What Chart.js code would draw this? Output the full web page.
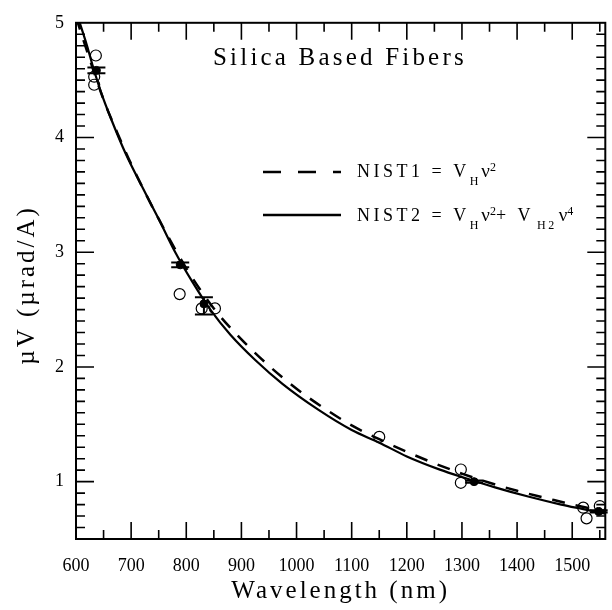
<!DOCTYPE html>
<html><head><meta charset="utf-8">
<script src="https://cdn.jsdelivr.net/npm/chart.js@4/dist/chart.umd.min.js"></script>
<style>html,body{margin:0;padding:0;background:#fff}</style>
</head><body>
<canvas id="c" width="612" height="610"></canvas>
<script>
// ---- data ----
const nist2Wavelength = [600, 620, 630, 645, 663, 690, 720, 750, 780, 810, 845, 880, 925, 975, 1040, 1100, 1150, 1200, 1260, 1300, 1360, 1420, 1480, 1520, 1560];
const nist2Values     = [5.10, 4.80, 4.63, 4.40, 4.17, 3.86, 3.57, 3.29, 3.00, 2.75, 2.49, 2.28, 2.06, 1.85, 1.625, 1.45, 1.34, 1.22, 1.105, 1.04, 0.95, 0.87, 0.80, 0.76, 0.72];
const nist1Wavelength = [600, 625, 650, 675, 700, 750, 800, 850, 900, 950, 1000, 1050, 1100, 1150, 1200, 1250, 1300, 1350, 1400, 1450, 1500, 1560];
const nist1Values     = [5.05, 4.68, 4.33, 4.04, 3.77, 3.29, 2.86, 2.51, 2.24, 2.01, 1.81, 1.64, 1.49, 1.37, 1.26, 1.16, 1.07, 0.99, 0.92, 0.86, 0.80, 0.74];
const openWavelength  = [636, 633, 633, 788, 828, 852, 1150, 1298, 1298, 1520, 1526, 1550];
const openValues      = [4.715, 4.53, 4.46, 2.635, 2.51, 2.51, 1.39, 1.106, 0.99, 0.773, 0.68, 0.787];
const filledWavelength = [637, 789, 832, 1322, 1548];
const filledValues     = [4.585, 2.89, 2.55, 1.00, 0.74];
const filledErrLow     = [4.56, 2.87, 2.457, 0.99, 0.73];
const filledErrHigh    = [4.61, 2.91, 2.607, 1.01, 0.75];
const xTickValues = [600, 700, 800, 900, 1000, 1100, 1200, 1300, 1400, 1500];
const yTickValues = [1, 2, 3, 4, 5];
const xMinorTicks = [650, 700, 750, 800, 850, 900, 950, 1000, 1050, 1100, 1150, 1200, 1250, 1300, 1350, 1400, 1450, 1500, 1550];
const yMinorTicks = [0.6, 0.7, 0.8, 0.9, 1, 1.1, 1.2, 1.3, 1.4, 1.5, 1.6, 1.7, 1.8, 1.9, 2, 2.1, 2.2, 2.3, 2.4, 2.5, 2.6, 2.7, 2.8, 2.9, 3,
                     3.1, 3.2, 3.3, 3.4, 3.5, 3.6, 3.7, 3.8, 3.9, 4, 4.1, 4.2, 4.3, 4.4, 4.5, 4.6, 4.7, 4.8, 4.9];
const chartTitle = 'Silica Based Fibers';
const xTitle = 'Wavelength (nm)';
const yTitle = 'µV (µrad/A)';

const pts = (xs, ys) => xs.map((x, i) => ({x, y: ys[i]}));
const SERIF = '"Liberation Serif", "DejaVu Serif", serif';

function drawRich(ctx, x, y, parts) {
  for (const p of parts) {
    ctx.font = p.s + 'px ' + SERIF;
    ctx.letterSpacing = (p.ls || 0) + 'px';
    ctx.fillText(p.t, x, y + (p.dy || 0));
    x += ctx.measureText(p.t).width + (p.gap || 0);
  }
  ctx.letterSpacing = '0px';
}

const frameTicks = {
  id: 'frameTicks',
  afterDatasetsDraw(chart) {
    const ctx = chart.ctx, a = chart.chartArea, xs = chart.scales.x, ys = chart.scales.y;
    ctx.save();
    ctx.globalAlpha = 1;
    ctx.globalCompositeOperation = 'source-over';
    ctx.setLineDash([]);
    ctx.strokeStyle = '#000';
    ctx.lineWidth = 1.6;
    // inward ticks drawn as zero-width stroked rectangles (i.e. lines)
    xMinorTicks.forEach(v => {
      const px = xs.getPixelForValue(v);
      const L = (v % 100 === 0) ? 17 : 9;
      ctx.strokeRect(px, a.bottom - L, 0, L);
      ctx.strokeRect(px, a.top, 0, L);
    });
    yMinorTicks.forEach(v => {
      const py = ys.getPixelForValue(v);
      const L = (Math.abs(v - Math.round(v)) < 1e-6) ? 18 : 9;
      ctx.strokeRect(a.left, py, L, 0);
      ctx.strokeRect(a.right - L, py, L, 0);
    });
    ctx.lineWidth = 2;
    ctx.strokeRect(a.left, a.top, a.right - a.left, a.bottom - a.top);
    // error bars
    filledWavelength.forEach((w, i) => {
      const px = xs.getPixelForValue(w);
      const y1 = ys.getPixelForValue(filledErrLow[i]);
      const y2 = ys.getPixelForValue(filledErrHigh[i]);
      ctx.beginPath();
      ctx.moveTo(px, y1); ctx.lineTo(px, y2);
      ctx.moveTo(px - 9, y1); ctx.lineTo(px + 9, y1);
      ctx.moveTo(px - 9, y2); ctx.lineTo(px + 9, y2);
      ctx.stroke();
    });
    ctx.restore();
  },
  afterDraw(chart) {
    const ctx = chart.ctx, a = chart.chartArea;
    ctx.save();
    ctx.setLineDash([]);
    ctx.strokeStyle = '#000';
    ctx.fillStyle = '#000';
    ctx.textBaseline = 'alphabetic';
    ctx.textAlign = 'left';
    drawRich(ctx, 213, 65, [{t: chartTitle, s: 25, ls: 3.2}]);
    ctx.lineWidth = 2.5;
    ctx.setLineDash([18, 17]);
    ctx.beginPath(); ctx.moveTo(263, 172); ctx.lineTo(341, 172); ctx.stroke();
    ctx.setLineDash([]);
    ctx.beginPath(); ctx.moveTo(263, 215); ctx.lineTo(341, 215); ctx.stroke();
    drawRich(ctx, 357, 177, [
      {t: 'NIST1 = V', s: 18, ls: 3.5},
      {t: 'H', s: 12, dy: 8, gap: 3},
      {t: 'ν', s: 19},
      {t: '2', s: 12, dy: -6}
    ]);
    drawRich(ctx, 357, 221, [
      {t: 'NIST2 = V', s: 18, ls: 3.5},
      {t: 'H', s: 12, dy: 8, gap: 3},
      {t: 'ν', s: 19},
      {t: '2', s: 12, dy: -6},
      {t: '+ V', s: 18, ls: 3.5, gap: 3},
      {t: 'H2', s: 12, dy: 8, ls: 2.5, gap: 2},
      {t: 'ν', s: 19},
      {t: '4', s: 12, dy: -6}
    ]);
    // axis titles (letter-spaced, as in the reference)
    ctx.font = '25px ' + SERIF;
    ctx.letterSpacing = '3px';
    ctx.textAlign = 'center';
    ctx.textBaseline = 'alphabetic';
    ctx.fillText(xTitle, (a.left + a.right) / 2, 598);
    ctx.translate(27, (a.top + a.bottom) / 2 + 4);
    ctx.rotate(-Math.PI / 2);
    ctx.textBaseline = 'middle';
    ctx.fillText(yTitle, 0, 0);
    ctx.letterSpacing = '0px';
    ctx.restore();
  }
};

new Chart(document.getElementById('c'), {
  type: 'scatter',
  data: {
    datasets: [
      {label: 'NIST1', data: pts(nist1Wavelength, nist1Values), showLine: true, borderColor: '#000', borderWidth: 2.5,
       borderDash: [13, 11], pointRadius: 0, cubicInterpolationMode: 'monotone'},
      {label: 'NIST2', data: pts(nist2Wavelength, nist2Values), showLine: true, borderColor: '#000', borderWidth: 2.2,
       pointRadius: 0, cubicInterpolationMode: 'monotone'},
      {label: 'open', data: pts(openWavelength, openValues), showLine: false, pointRadius: 5.5, borderWidth: 1.2,
       borderColor: '#000', backgroundColor: 'rgba(0,0,0,0)'},
      {label: 'filled', data: pts(filledWavelength, filledValues), showLine: false, pointRadius: 4, borderWidth: 1,
       borderColor: '#000', backgroundColor: '#000'}
    ]
  },
  options: {
    responsive: false,
    animation: false,
    devicePixelRatio: 1,
    layout: {padding: {top: 10, right: 0, left: 0, bottom: 0}},
    plugins: {legend: {display: false}, tooltip: {enabled: false}},
    scales: {
      x: {
        type: 'linear', min: 600, max: 1560,
        grid: {display: false, drawTicks: false}, border: {display: false},
        afterBuildTicks: s => { s.ticks = xTickValues.map(v => ({value: v})); },
        afterFit: s => { s.height = 71; },
        ticks: {color: '#000', font: {family: SERIF, size: 18}, padding: 16, maxRotation: 0, autoSkip: false,
                callback: v => String(v)},
        title: {display: false, text: xTitle}
      },
      y: {
        type: 'linear', min: 0.5, max: 5,
        grid: {display: false, drawTicks: false}, border: {display: false},
        afterBuildTicks: s => { s.ticks = yTickValues.map(v => ({value: v})); },
        afterFit: s => { s.width = 76; },
        ticks: {color: '#000', font: {family: SERIF, size: 18}, padding: 12, callback: v => String(v)},
        title: {display: false, text: yTitle}
      }
    }
  },
  plugins: [frameTicks]
});
</script>
</body></html>
